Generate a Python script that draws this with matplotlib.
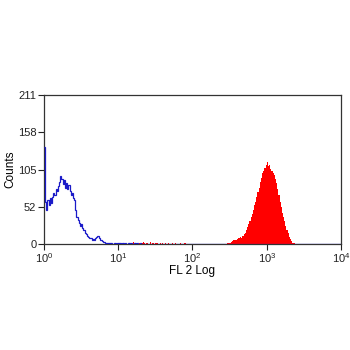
import numpy as np
import matplotlib
matplotlib.use("Agg")
import matplotlib.pyplot as plt

plt.rcParams['font.family'] = ['Liberation Sans', 'DejaVu Sans']
plt.rcParams['mathtext.fontset'] = 'custom'
plt.rcParams['mathtext.rm'] = 'Liberation Sans'
plt.rcParams['mathtext.it'] = 'Liberation Sans'
plt.rcParams['mathtext.bf'] = 'Liberation Sans'

# 256 log channels over 4 decades (64 channels per decade)
n_channels = 256
channels_per_decade = 64

# Control (blue outline), counts from channel 0
blue_counts = [138, 60, 48, 62, 55, 65, 58, 66, 72, 70,
               78, 75, 82, 88, 97, 92, 85, 90, 80, 86,
               78, 84, 75, 70, 72, 65, 62, 48, 38, 34,
               30, 26, 28, 22, 20, 16, 14, 12, 10, 8,
               9, 6, 7, 5, 8, 10, 12, 8, 6, 5,
               4, 3, 3, 2, 2, 1, 2, 1, 1, 0,
               1, 1, 0, 1, 2, 1, 0, 1, 1, 0,
               1, 0, 2, 1, 0, 1, 0, 0, 1, 0,
               1, 0, 0, 1]

# Stained sample (red filled): sparse low counts from channel 70
red_low_start = 70
red_low_counts = [1, 0, 0, 2, 0, 1, 0, 3, 0, 1,
                  2, 0, 1, 0, 2, 3, 1, 0, 2, 1,
                  0, 3, 0, 2, 1, 0, 1, 2, 0, 0,
                  1, 0, 2, 0, 1, 0, 0, 1, 0, 0,
                  2, 0, 0, 1, 0, 0, 0, 1, 0, 0,
                  0, 1]

# Stained sample main peak from channel 158
red_peak_start = 158
red_peak_counts = [1, 2, 1, 3, 4, 5, 6, 5, 7, 8,
                   8, 10, 9, 12, 14, 16, 20, 24, 28, 32,
                   38, 42, 48, 55, 60, 66, 74, 80, 88, 94,
                   100, 104, 108, 112, 116, 110, 112, 106, 104, 100,
                   98, 92, 86, 78, 70, 60, 52, 44, 38, 32,
                   26, 20, 15, 10, 7, 4, 2, 1, 0]

y_ticks = [0, 52, 105, 158, 211]
x_tick_labels = [r'$\mathregular{10^{0}}$', r'$\mathregular{10^{1}}$',
                 r'$\mathregular{10^{2}}$', r'$\mathregular{10^{3}}$',
                 r'$\mathregular{10^{4}}$']

blue = np.zeros(n_channels)
blue[:len(blue_counts)] = blue_counts
red = np.zeros(n_channels)
red[red_low_start:red_low_start + len(red_low_counts)] = red_low_counts
red[red_peak_start:red_peak_start + len(red_peak_counts)] = red_peak_counts
edges = 10 ** (np.arange(n_channels + 1) / channels_per_decade)

fig = plt.figure(figsize=(3.5, 3.5), dpi=100)
ax = fig.add_axes([44 / 350, 1 - 244 / 350, (341 - 44) / 350, (244 - 95) / 350])

ax.stairs(red, edges, fill=True, color='#ff0000', linewidth=0, zorder=3)
ax.stairs(blue, edges, color='#1a1ac8', linewidth=0.9, baseline=None, zorder=3)

ax.set_xscale('log')
ax.set_xlim(1, 1e4)
ax.set_ylim(0, 211)
ax.set_xticks([1, 10, 100, 1000, 10000])
ax.set_xticklabels(x_tick_labels)
ax.xaxis.set_minor_locator(matplotlib.ticker.NullLocator())
ax.set_yticks(y_ticks)
ax.set_yticklabels([str(v) for v in y_ticks])
ax.tick_params(axis='both', direction='out', length=4, width=0.8,
               labelsize=8, pad=1.5, colors='#222222', top=False, right=False)
for s in ax.spines.values():
    s.set_linewidth(0.9)
    s.set_color('#333333')
ax.set_xlabel('FL 2 Log', fontsize=8.5, labelpad=0)
ax.set_ylabel('Counts', fontsize=8.5, labelpad=1)

fig.savefig('out.png', dpi=100)
